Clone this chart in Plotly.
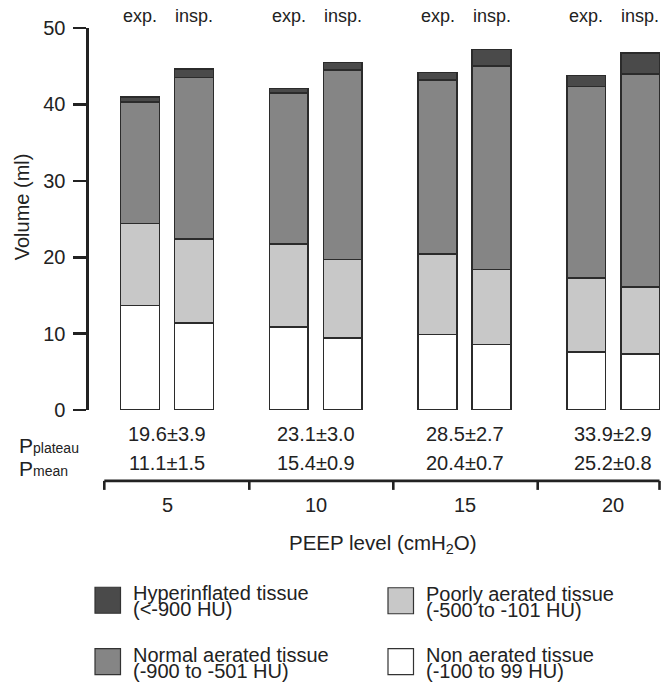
import plotly.graph_objects as go

# ---------------- data ----------------
peep_levels = ["5", "10", "15", "20"]
phases = ["exp.", "insp."]

tissue_names = ["Non aerated tissue", "Poorly aerated tissue",
                "Normal aerated tissue", "Hyperinflated tissue"]
tissue_ranges = ["(-100 to 99 HU)", "(-500 to -101 HU)",
                 "(-900 to -501 HU)", "(<-900 HU)"]

non_exp = [13.7, 10.9, 9.9, 7.6]
non_insp = [11.4, 9.4, 8.6, 7.3]
poor_exp = [10.7, 10.8, 10.5, 9.7]
poor_insp = [10.95, 10.3, 9.8, 8.8]
normal_exp = [15.9, 19.8, 22.8, 25.05]
normal_insp = [21.15, 24.8, 26.6, 27.9]
hyper_exp = [0.65, 0.6, 1.0, 1.45]
hyper_insp = [1.1, 1.0, 2.2, 2.7]

p_plateau = ["19.6±3.9", "23.1±3.0", "28.5±2.7", "33.9±2.9"]
p_mean = ["11.1±1.5", "15.4±0.9", "20.4±0.7", "25.2±0.8"]

# ---------------- styling ----------------
colors = ["#ffffff", "#c8c8c8", "#858585", "#4a4a4a"]
edge = "#2b2b2b"
txt = "#222222"
FONT = "Liberation Sans, Arial, Helvetica, sans-serif"
NARROW = "Liberation Sans Narrow, Arial Narrow, Liberation Sans, Arial, sans-serif"

PAGE_W, PAGE_H = 662, 685
W, H = PAGE_W, PAGE_H
PLOT_LEFT, PLOT_TOP, PLOT_BOTTOM = 89, 27.5, 410   # pixels
L = PLOT_LEFT
T = PLOT_TOP
B = H - PLOT_BOTTOM
R = 0
plot_w = W - L - R
plot_h = H - T - B


def px_x(px):
    return (px - PLOT_LEFT) / plot_w


def px_y(py):
    return (PLOT_BOTTOM - py) / plot_h


GROUP_C0, GROUP_STEP = 167, 148.75
offset = 0.1815
bar_w = 0.26
x_pos = []
for gi in range(len(peep_levels)):
    x_pos += [gi - offset, gi + offset]


def interleave(a, b):
    out = []
    for u, v in zip(a, b):
        out += [u, v]
    return out


series = [
    interleave(non_exp, non_insp),
    interleave(poor_exp, poor_insp),
    interleave(normal_exp, normal_insp),
    interleave(hyper_exp, hyper_insp),
]

fig = go.Figure()
for name, vals, col in zip(tissue_names, series, colors):
    fig.add_trace(go.Bar(
        x=x_pos, y=vals, width=bar_w, name=name,
        marker=dict(color=col, line=dict(color=edge, width=1.6)),
        showlegend=False, hoverinfo="skip",
    ))

annotations = []
shapes = []


def ann(**kw):
    d = dict(showarrow=False, xanchor="center", yanchor="middle", borderpad=0)
    d.update(kw)
    annotations.append(d)


# phase labels above bars
for xi, ph in zip(x_pos, phases * len(peep_levels)):
    ann(x=xi, xref="x", y=px_y(15.5), yref="paper", text=ph,
        font=dict(family=FONT, size=18, color=txt))

# pressure rows and PEEP labels
for gi in range(len(peep_levels)):
    ann(x=gi, xref="x", y=px_y(434), yref="paper", text=p_plateau[gi],
        font=dict(family=NARROW, size=20, color=txt))
    ann(x=gi, xref="x", y=px_y(463), yref="paper", text=p_mean[gi],
        font=dict(family=NARROW, size=20, color=txt))
    ann(x=gi, xref="x", y=px_y(505), yref="paper", text=peep_levels[gi],
        font=dict(family=FONT, size=20, color=txt))

ann(x=px_x(18), xref="paper", y=px_y(446), yref="paper", xanchor="left",
    text='P<span style="font-size:14px">plateau</span>',
    font=dict(family=FONT, size=21, color=txt))
ann(x=px_x(18), xref="paper", y=px_y(469), yref="paper", xanchor="left",
    text='P<span style="font-size:14px">mean</span>',
    font=dict(family=FONT, size=21, color=txt))

ann(x=px_x(383), xref="paper", y=px_y(544), yref="paper",
    text="PEEP level (cmH<sub>2</sub>O)",
    font=dict(family=FONT, size=20.5, color=txt))

ann(x=px_x(22), xref="paper", y=px_y(207), yref="paper",
    text="Volume (ml)", textangle=-90,
    font=dict(family=FONT, size=20, color=txt))

# bracket under the groups
br_y = px_y(481)
br_y2 = px_y(490)
br_xs = [104.3, 249.3, 393.3, 537.7, 659.5]
shapes.append(dict(type="line", xref="paper", yref="paper",
                   x0=px_x(br_xs[0]), x1=px_x(br_xs[-1]), y0=br_y, y1=br_y,
                   line=dict(color=txt, width=2.6)))
for bx in br_xs:
    shapes.append(dict(type="line", xref="paper", yref="paper",
                       x0=px_x(bx), x1=px_x(bx), y0=br_y, y1=br_y2,
                       line=dict(color=txt, width=2.6)))

# legend (manual, two columns)
leg_items = [
    (3, 95, 587.5),   # hyperinflated
    (2, 95, 649),     # normal
    (1, 388, 588),    # poorly
    (0, 388, 649),    # non aerated
]
for idx, bx, by in leg_items:
    shapes.append(dict(type="rect", xref="paper", yref="paper",
                       x0=px_x(bx), x1=px_x(bx + 25.5),
                       y0=px_y(by + 26), y1=px_y(by),
                       fillcolor=colors[idx], line=dict(color="#333333", width=1.2)))
    tx = bx + 37
    ann(x=px_x(tx), xref="paper", y=px_y(by + 6), yref="paper", xanchor="left",
        text=tissue_names[idx], font=dict(family=FONT, size=20, color=txt))
    ann(x=px_x(tx), xref="paper", y=px_y(by + 22), yref="paper", xanchor="left",
        text=tissue_ranges[idx], font=dict(family=FONT, size=20, color=txt))

fig.update_layout(
    width=W, height=H,
    margin=dict(l=L, r=R, t=T, b=B, pad=0, autoexpand=False),
    paper_bgcolor="white", plot_bgcolor="white",
    barmode="stack",
    showlegend=False,
    hovermode=False,
    annotations=annotations,
    shapes=shapes,
    xaxis=dict(range=[(PLOT_LEFT - GROUP_C0) / GROUP_STEP,
                      (PAGE_W - GROUP_C0) / GROUP_STEP],
               visible=False, fixedrange=True),
    yaxis=dict(range=[0, 50], dtick=10, showgrid=False, zeroline=False,
               showline=True, linecolor=txt, linewidth=2.6,
               ticks="outside", ticklen=13, tickwidth=2.6, tickcolor=txt,
               tickfont=dict(family=FONT, size=20, color=txt),
               ticklabelstandoff=4, fixedrange=True),
)

fig.write_html(
    "out.html",
    config={"displayModeBar": False, "staticPlot": True},
    post_script="document.body.style.margin='0';document.body.style.overflow='hidden';",
)
